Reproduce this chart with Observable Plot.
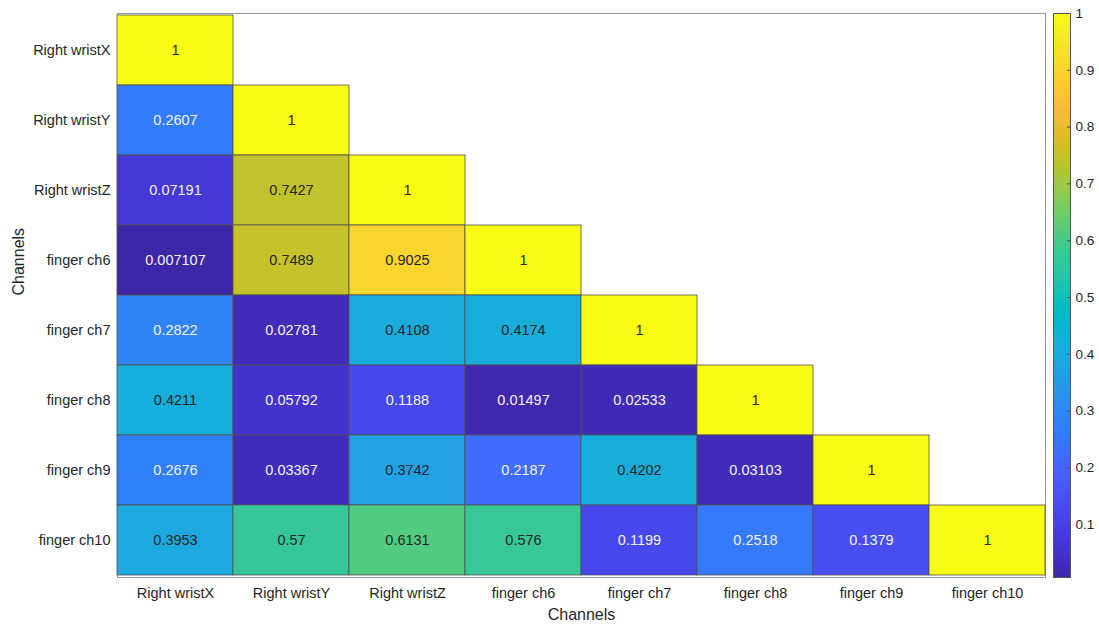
<!DOCTYPE html>
<html>
<head>
<meta charset="utf-8">
<script src="https://cdn.jsdelivr.net/npm/d3@7"></script>
<script src="https://cdn.jsdelivr.net/npm/@observablehq/plot@0.6"></script>
<style>
  html, body { margin: 0; padding: 0; background: #fff; }
  #wrap { position: relative; width: 1099px; height: 624px; font-family: "Liberation Sans", Arial, sans-serif; }
  #main { position: absolute; left: 0; top: 0; }
  #bar { position: absolute; left: 1040px; top: 0; }
</style>
</head>
<body>
<div id="wrap"><div id="main"></div><div id="bar"></div></div>
<script>
// Channel names, used for both axes
const channels = ["Right wristX", "Right wristY", "Right wristZ", "finger ch6",
                  "finger ch7", "finger ch8", "finger ch9", "finger ch10"];

// Lower triangle of the correlation matrix, one row per channel
const rWristX = [1];
const rWristY = [0.2607, 1];
const rWristZ = [0.07191, 0.7427, 1];
const rCh6    = [0.007107, 0.7489, 0.9025, 1];
const rCh7    = [0.2822, 0.02781, 0.4108, 0.4174, 1];
const rCh8    = [0.4211, 0.05792, 0.1188, 0.01497, 0.02533, 1];
const rCh9    = [0.2676, 0.03367, 0.3742, 0.2187, 0.4202, 0.03103, 1];
const rCh10   = [0.3953, 0.57, 0.6131, 0.576, 0.1199, 0.2518, 0.1379, 1];

// Colour bar tick values
const barTicks = [0.1, 0.2, 0.3, 0.4, 0.5, 0.6, 0.7, 0.8, 0.9, 1];

// parula colormap (64 entries, RGB 0..1)
const parula = [
[0.2422,0.1504,0.6603],[0.2504,0.1650,0.7076],[0.2578,0.1818,0.7511],[0.2647,0.1978,0.7952],
[0.2706,0.2147,0.8364],[0.2751,0.2342,0.8710],[0.2783,0.2559,0.8991],[0.2803,0.2782,0.9221],
[0.2813,0.3006,0.9414],[0.2810,0.3228,0.9579],[0.2795,0.3447,0.9717],[0.2760,0.3667,0.9829],
[0.2699,0.3892,0.9906],[0.2602,0.4123,0.9952],[0.2440,0.4358,0.9988],[0.2206,0.4603,0.9973],
[0.1963,0.4847,0.9892],[0.1834,0.5074,0.9798],[0.1786,0.5289,0.9682],[0.1764,0.5499,0.9520],
[0.1687,0.5703,0.9359],[0.1540,0.5902,0.9218],[0.1460,0.6091,0.9079],[0.1380,0.6276,0.8973],
[0.1248,0.6459,0.8883],[0.1113,0.6635,0.8763],[0.0952,0.6798,0.8598],[0.0689,0.6948,0.8394],
[0.0297,0.7082,0.8163],[0.0036,0.7203,0.7917],[0.0067,0.7312,0.7660],[0.0433,0.7411,0.7394],
[0.0964,0.7500,0.7120],[0.1408,0.7584,0.6842],[0.1717,0.7670,0.6554],[0.1938,0.7758,0.6251],
[0.2161,0.7843,0.5923],[0.2470,0.7918,0.5567],[0.2906,0.7973,0.5188],[0.3406,0.8008,0.4789],
[0.3909,0.8029,0.4354],[0.4456,0.8024,0.3909],[0.5044,0.7993,0.3480],[0.5616,0.7942,0.3045],
[0.6174,0.7876,0.2612],[0.6720,0.7793,0.2227],[0.7242,0.7698,0.1910],[0.7738,0.7598,0.1646],
[0.8203,0.7498,0.1535],[0.8634,0.7406,0.1596],[0.9035,0.7330,0.1774],[0.9393,0.7288,0.2100],
[0.9728,0.7298,0.2394],[0.9956,0.7434,0.2371],[0.9970,0.7659,0.2199],[0.9952,0.7893,0.2028],
[0.9892,0.8136,0.1885],[0.9786,0.8386,0.1766],[0.9676,0.8639,0.1643],[0.9610,0.8890,0.1537],
[0.9597,0.9135,0.1423],[0.9628,0.9373,0.1265],[0.9691,0.9606,0.1064],[0.9769,0.9839,0.0805]];
const parulaFn = d3.piecewise(d3.interpolateRgb,
  parula.map(([r, g, b]) => d3.rgb(r * 255, g * 255, b * 255).toString()));

// Long-format table for the heatmap
const rows = [rWristX, rWristY, rWristZ, rCh6, rCh7, rCh8, rCh9, rCh10];
const cells = rows.flatMap((vals, i) =>
  vals.map((v, j) => ({row: channels[i], col: channels[j], value: v})));

const vmin = d3.min(cells, d => d.value);
const vmax = d3.max(cells, d => d.value);
const colorOpts = {type: "linear", domain: [vmin, vmax], interpolate: parulaFn};
const ink = "#262626";
const fmt = v => String(+v.toPrecision(4));

const main = Plot.plot({
  width: 1050,
  height: 624,
  marginLeft: 117,
  marginRight: 5,
  marginTop: 13,
  marginBottom: 47,
  style: {fontFamily: "'Liberation Sans', Arial, sans-serif", fontSize: "14.5px", color: ink, background: "#fff"},
  x: {domain: channels, padding: 0},
  y: {domain: channels, padding: 0},
  color: colorOpts,
  marks: [
    Plot.frame({stroke: "#8f9ea8", strokeWidth: 1}),
    Plot.cell(cells, {x: "col", y: "row", fill: "value", stroke: "#505050", strokeWidth: 0.8}),
    Plot.text(cells, {
      x: "col", y: "row", text: d => fmt(d.value),
      fill: d => d.value < 0.3 ? "#f2f2f2" : ink,
      fontSize: 14.5
    }),
    Plot.axisX({tickSize: 0, tickPadding: 10, fontSize: 14.5, label: null}),
    Plot.axisY({tickSize: 0, tickPadding: 7, fontSize: 14.5, label: null}),
    Plot.text(["Channels"], {frameAnchor: "bottom", dy: 42, fontSize: 16, fill: ink}),
    Plot.text(["Channels"], {frameAnchor: "left", dx: -99, rotate: -90, fontSize: 16, fill: ink})
  ]
});
document.getElementById("main").appendChild(main);

// Vertical colour bar
const bar = Plot.plot({
  width: 59,
  height: 624,
  marginLeft: 13,
  marginRight: 29,
  marginTop: 13,
  marginBottom: 47,
  style: {fontFamily: "'Liberation Sans', Arial, sans-serif", fontSize: "13.5px", color: ink, background: "transparent"},
  x: {domain: [0, 1], axis: null},
  y: {domain: [vmin, vmax], axis: null},
  color: colorOpts,
  marks: [
    Plot.raster({x1: 0, x2: 1, y1: vmin, y2: vmax, width: 1, height: 512, fill: (x, y) => y, imageRendering: "auto"}),
    Plot.frame({stroke: "#555", strokeWidth: 1}),
    Plot.axisY(barTicks, {anchor: "right", tickSize: -4, tickPadding: 9, stroke: "#555", fill: ink, fontSize: 13.5, label: null, tickFormat: d => String(d)})
  ]
});
document.getElementById("bar").appendChild(bar);
</script>
</body>
</html>
